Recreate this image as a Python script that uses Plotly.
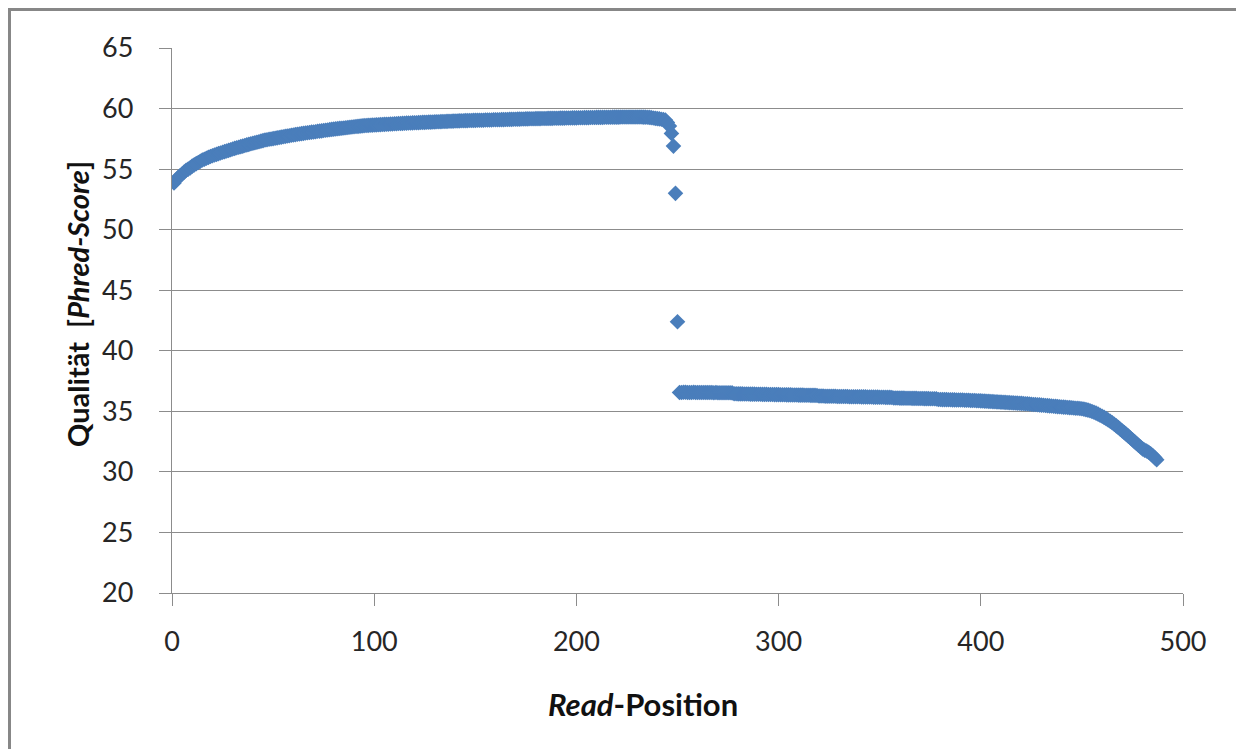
import plotly.graph_objects as go

# Read positions 1..487
positions = list(range(1, 488))

# Mean quality per position (Phred score)
seg1 = [
    53.85, 54.10, 54.30, 54.45, 54.60, 54.75, 54.90, 55.00, 55.10, 55.25,
    55.35, 55.45, 55.55, 55.65, 55.75, 55.82, 55.90, 55.97, 56.04, 56.10,
    56.16, 56.22, 56.28, 56.33, 56.39, 56.44, 56.50, 56.55, 56.60, 56.66,
    56.71, 56.76, 56.81, 56.86, 56.90, 56.95, 57.00, 57.04, 57.09, 57.13,
    57.18, 57.22, 57.26, 57.31, 57.35, 57.40, 57.43, 57.46, 57.49, 57.52,
    57.55, 57.58, 57.61, 57.64, 57.67, 57.70, 57.73, 57.76, 57.79, 57.82,
    57.85, 57.88, 57.90, 57.93, 57.95, 57.98, 58.00, 58.02, 58.05, 58.07,
    58.09, 58.12, 58.14, 58.16, 58.19, 58.21, 58.23, 58.26, 58.28, 58.30,
    58.32, 58.34, 58.36, 58.38, 58.40, 58.42, 58.44, 58.46, 58.48, 58.50,
    58.52, 58.53, 58.55, 58.57, 58.59, 58.60, 58.61, 58.62, 58.63, 58.64,
    58.65, 58.66, 58.67, 58.68, 58.69, 58.70, 58.71, 58.72, 58.73, 58.74,
    58.75, 58.76, 58.77, 58.78, 58.79, 58.80, 58.81, 58.81, 58.82, 58.83,
    58.83, 58.84, 58.85, 58.86, 58.86, 58.87, 58.88, 58.88, 58.89, 58.90,
    58.91, 58.91, 58.92, 58.93, 58.93, 58.94, 58.95, 58.95, 58.96, 58.97,
    58.97, 58.98, 58.99, 58.99, 59.00, 59.00, 59.01, 59.01, 59.02, 59.02,
    59.03, 59.03, 59.04, 59.04, 59.05, 59.05, 59.06, 59.06, 59.07, 59.07,
    59.08, 59.08, 59.09, 59.09, 59.10, 59.10, 59.11, 59.11, 59.12, 59.12,
    59.13, 59.13, 59.14, 59.14, 59.15, 59.15, 59.16, 59.16, 59.16, 59.17,
    59.17, 59.17, 59.18, 59.18, 59.18, 59.19, 59.19, 59.19, 59.20, 59.20,
    59.20, 59.21, 59.21, 59.21, 59.22, 59.22, 59.22, 59.23, 59.23, 59.23,
    59.24, 59.24, 59.24, 59.25, 59.25, 59.25, 59.26, 59.26, 59.26, 59.27,
    59.27, 59.27, 59.27, 59.28, 59.28, 59.28, 59.28, 59.29, 59.29, 59.29,
    59.29, 59.30, 59.30, 59.30, 59.30, 59.30, 59.30, 59.30, 59.30, 59.30,
    59.30, 59.30, 59.29, 59.29, 59.28, 59.27, 59.25, 59.22, 59.19, 59.17,
    59.15, 59.12, 59.10, 59.05, 58.85, 58.55, 57.95, 56.90, 53.00, 42.40,
]

seg2 = [
    36.56, 36.56, 36.57, 36.57, 36.56, 36.56, 36.56, 36.57, 36.56, 36.56,
    36.56, 36.55, 36.55, 36.56, 36.55, 36.55, 36.55, 36.54, 36.55, 36.54,
    36.54, 36.54, 36.53, 36.54, 36.53, 36.53, 36.52, 36.45, 36.45, 36.44,
    36.44, 36.44, 36.43, 36.43, 36.43, 36.42, 36.42, 36.42, 36.41, 36.41,
    36.41, 36.40, 36.40, 36.40, 36.39, 36.39, 36.39, 36.38, 36.38, 36.38,
    36.37, 36.37, 36.37, 36.36, 36.36, 36.36, 36.35, 36.35, 36.35, 36.34,
    36.34, 36.34, 36.33, 36.33, 36.33, 36.32, 36.32, 36.32, 36.31, 36.26,
    36.26, 36.26, 36.25, 36.25, 36.25, 36.24, 36.24, 36.24, 36.23, 36.23,
    36.23, 36.22, 36.22, 36.22, 36.21, 36.21, 36.21, 36.20, 36.20, 36.20,
    36.19, 36.19, 36.19, 36.18, 36.18, 36.18, 36.17, 36.17, 36.17, 36.16,
    36.16, 36.16, 36.15, 36.15, 36.15, 36.14, 36.10, 36.10, 36.10, 36.09,
    36.09, 36.09, 36.08, 36.08, 36.08, 36.07, 36.07, 36.07, 36.06, 36.06,
    36.06, 36.05, 36.05, 36.05, 36.04, 36.04, 36.04, 36.03, 35.98, 35.98,
    35.97, 35.97, 35.97, 35.96, 35.96, 35.95, 35.95, 35.94, 35.94, 35.93,
    35.93, 35.92, 35.92, 35.91, 35.90, 35.90, 35.89, 35.88, 35.87, 35.86,
    35.85, 35.84, 35.83, 35.82, 35.81, 35.80, 35.79, 35.78, 35.77, 35.76,
    35.75, 35.74, 35.73, 35.72, 35.71, 35.70, 35.69, 35.68, 35.67, 35.66,
    35.65, 35.63, 35.62, 35.60, 35.59, 35.57, 35.56, 35.54, 35.53, 35.51,
    35.50, 35.48, 35.47, 35.45, 35.44, 35.42, 35.41, 35.39, 35.38, 35.36,
    35.35, 35.34, 35.32, 35.31, 35.29, 35.28, 35.26, 35.25, 35.23, 35.21,
    35.18, 35.14, 35.10, 35.05, 34.99, 34.92, 34.85, 34.77, 34.68, 34.59,
    34.50, 34.40, 34.29, 34.18, 34.06, 33.93, 33.80, 33.66, 33.52, 33.38,
    33.24, 33.10, 32.95, 32.80, 32.65, 32.50, 32.35, 32.20, 32.05, 31.90,
    31.80, 31.72, 31.62, 31.50, 31.35, 31.18, 31.00,
]

quality = seg1 + seg2

x_ticks = [0, 100, 200, 300, 400, 500]
y_ticks = [20, 25, 30, 35, 40, 45, 50, 55, 60, 65]

MARK = "#4A7EBB"
GRID = "#8C8C8C"
FONT = "Lato, 'Open Sans', sans-serif"
TXT = "#262626"

fig = go.Figure()
fig.add_trace(go.Scatter(
    x=positions[:len(quality)], y=quality, mode="markers",
    marker=dict(symbol="diamond", size=12, color=MARK, line=dict(width=0)),
    showlegend=False, hoverinfo="x+y",
))

OFF = 8  # page body margin
W, H = 1236, 741
L, T = 172 - OFF, 48 - OFF
R = W - (1183 - OFF)
B = H - (593 - OFF)
pw, ph = W - L - R, H - T - B

def px_x(p):
    return (p - OFF - L) / pw

def px_y(p):
    return (H - B - (p - OFF)) / ph

FRAME = dict(color="#878787", width=3)

fig.update_layout(
    width=W, height=H,
    margin=dict(l=L, r=R, t=T, b=B, pad=0),
    paper_bgcolor="white", plot_bgcolor="white",
    font=dict(family=FONT, size=27, color=TXT),
    xaxis=dict(
        range=[0, 500], tickvals=x_ticks, showgrid=False, zeroline=False,
        showline=True, linecolor=GRID, linewidth=1.3,
        ticks="outside", ticklen=12, tickcolor=GRID, tickwidth=1.3,
        ticklabelstandoff=12,
        tickfont=dict(family=FONT, size=27, color=TXT),
    ),
    yaxis=dict(
        range=[20, 65], tickvals=y_ticks, showgrid=True, gridcolor=GRID, gridwidth=1.3,
        zeroline=False, showline=True, linecolor=GRID, linewidth=1.3,
        ticks="outside", ticklen=12, tickcolor=GRID, tickwidth=1.3,
        ticklabelstandoff=20,
        tickfont=dict(family=FONT, size=27, color=TXT),
    ),
    shapes=[
        dict(type="line", xref="paper", yref="paper",
             x0=px_x(9), x1=px_x(1260), y0=px_y(9.5), y1=px_y(9.5), line=FRAME),
        dict(type="line", xref="paper", yref="paper",
             x0=px_x(9.5), x1=px_x(9.5), y0=px_y(8), y1=px_y(760), line=FRAME),
    ],
    annotations=[
        dict(text="<b>Qualität  [<i>Phred-Score</i>]</b>", xref="paper", yref="paper",
             x=px_x(77), y=px_y(304), textangle=-90, showarrow=False,
             xanchor="center", yanchor="middle",
             font=dict(family=FONT, size=29, color="#111111")),
        dict(text="<b><i>Read</i>-Position</b>", xref="paper", yref="paper",
             x=px_x(643), y=px_y(704), showarrow=False,
             xanchor="center", yanchor="middle",
             font=dict(family=FONT, size=31, color="#111111")),
    ],
)

fig.write_html("out.html", config={"displayModeBar": False})
